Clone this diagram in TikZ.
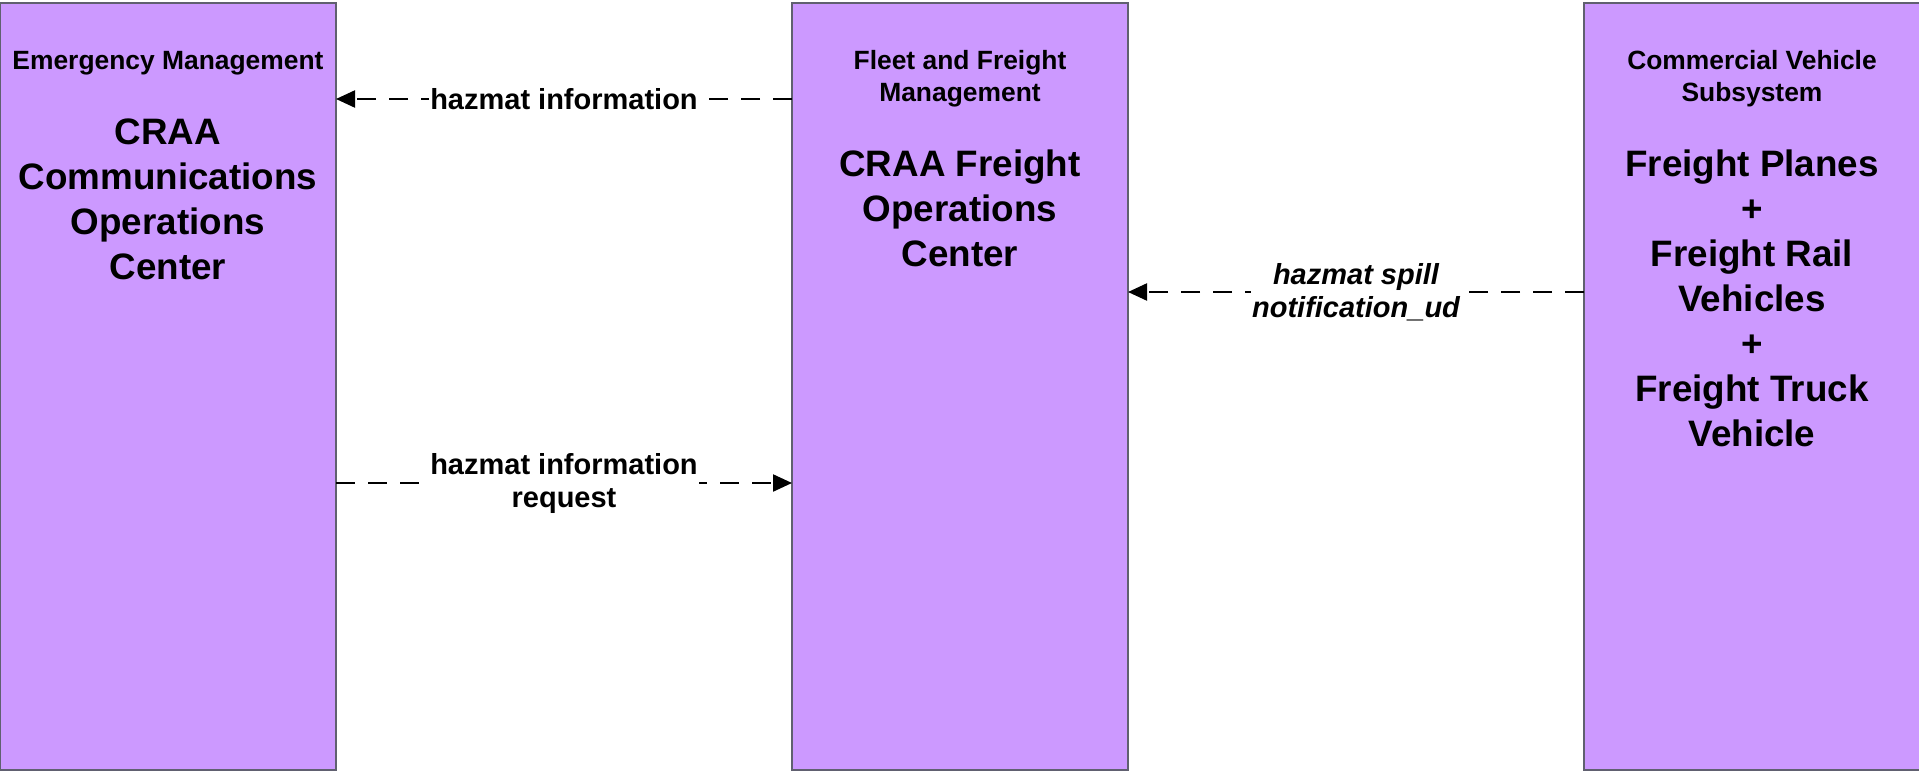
\documentclass[tikz,border=0pt]{standalone}
\usepackage{fontspec}
\setmainfont{Liberation Sans}
\usetikzlibrary{positioning}
\usetikzlibrary{arrows.meta}

\definecolor{boxfill}{RGB}{204,153,255}
\definecolor{boxedge}{RGB}{96,96,112}

\tikzset{
  sysbox/.style={draw=boxedge, fill=boxfill, line width=1.5pt, minimum width=336pt,
    minimum height=767pt, inner sep=0pt, outer sep=0pt},
  systitle/.style={font=\bfseries\fontsize{26.4}{32}\selectfont, align=center, inner sep=0pt},
  sysname/.style={font=\bfseries\fontsize{36.8}{45}\selectfont, align=center, inner sep=0pt},
  flow/.style={line width=2.3pt, dash pattern=on 19pt off 13pt, -{Triangle[length=19pt,width=17pt]}},
  flowlbl/.style={font=\bfseries\fontsize{29}{33}\selectfont, align=center, fill=white, inner sep=1pt},
  flowlblit/.style={flowlbl, font=\bfseries\itshape\fontsize{29}{33}\selectfont}
}

\begin{document}
\begin{tikzpicture}[x=1pt,y=1pt]
\useasboundingbox (0,0) rectangle (1919,-771);

\node[sysbox] (emc) at (168,-386.5) {};
\node[sysbox, right=456pt of emc] (ffm) {};
\node[sysbox, right=456pt of ffm] (cvs) {};

\node[systitle, anchor=north] (emctitle) at ([yshift=-48pt]emc.north) {Emergency Management};
\node[sysname, below=43pt of emctitle] (emcname) {CRAA\\Communications\\Operations\\Center};

\node[systitle, anchor=north] (ffmtitle) at ([yshift=-47.6pt]ffm.north) {Fleet and Freight\\Management};
\node[sysname, below=42pt of ffmtitle] (ffmname) {CRAA Freight\\Operations\\Center};

\node[systitle, anchor=north] (cvstitle) at ([yshift=-47.6pt]cvs.north) {Commercial Vehicle\\Subsystem};
\node[sysname, below=42pt of cvstitle] (cvsname) {Freight Planes\\+\\Freight Rail\\Vehicles\\+\\Freight Truck\\Vehicle};

\draw[flow] ([yshift=-96pt]ffm.north west) -- node[flowlbl] {hazmat information} ([yshift=-96pt]emc.north east);
\draw[flow] ([yshift=-480pt]emc.north east) -- node[flowlbl] {hazmat information\\request} ([yshift=-480pt]ffm.north west);
\draw[flow] ([yshift=-289pt]cvs.north west) -- node[flowlblit] {hazmat spill\\notification\_ud} ([yshift=-289pt]ffm.north east);

\end{tikzpicture}
\end{document}
